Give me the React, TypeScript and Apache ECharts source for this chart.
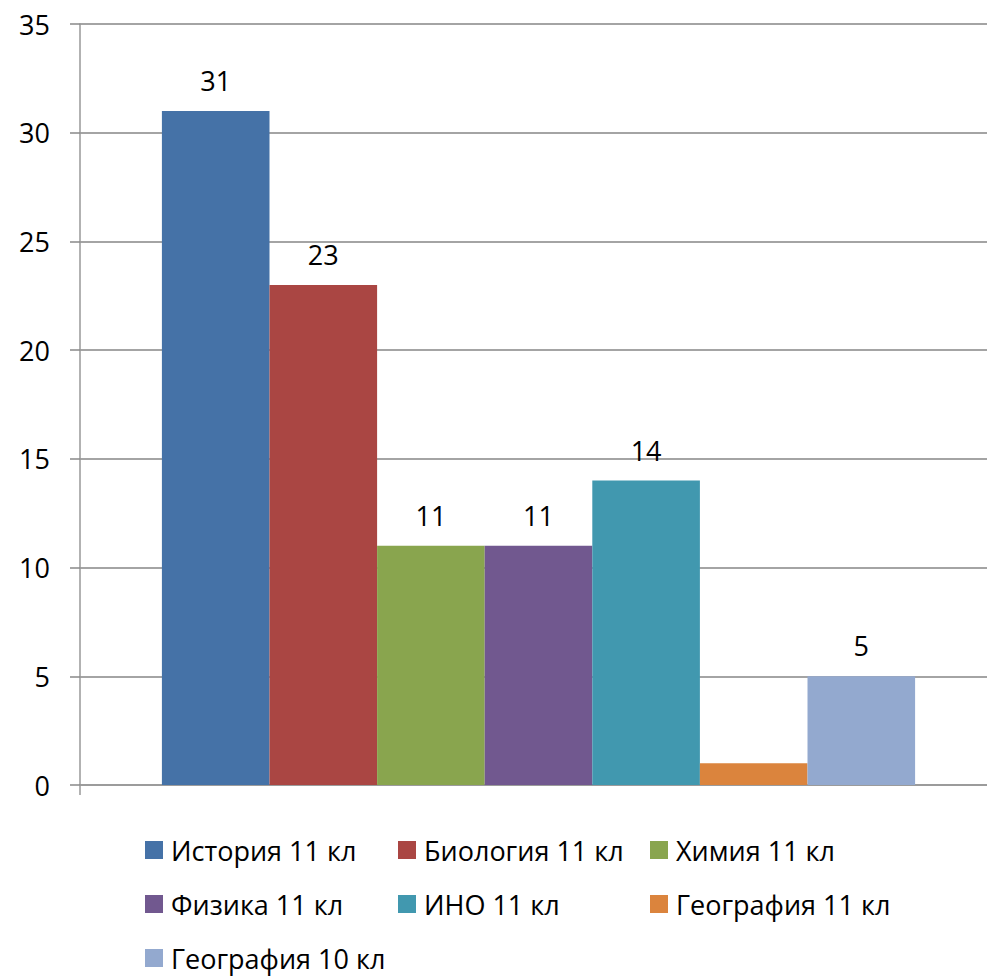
import React, { useEffect, useRef } from "react";
import * as echarts from "echarts";

const categories = [""];
const seriesNames = [
  "История 11 кл",
  "Биология 11 кл",
  "Химия 11 кл",
  "Физика 11 кл",
  "ИНО 11 кл",
  "География 11 кл",
  "География 10 кл",
];
const seriesValues = [31, 23, 11, 11, 14, 1, 5];
const showValueLabel = [true, true, true, true, true, false, true];
const seriesColors = ["#4572A7", "#AA4643", "#89A54E", "#71588F", "#4198AF", "#DB843D", "#93A9CF"];
const yTicks = { min: 0, max: 35, interval: 5 };

const FONT = "'Open Sans', 'Noto Sans', sans-serif";
const FS = 27;

// legend layout: three columns, three rows
const legendCols = [145, 398, 650];
const legendRows = [836, 890, 944];

export default function App() {
  const ref = useRef<HTMLDivElement>(null);
  useEffect(() => {
    if (!ref.current) return;
    const chart = echarts.init(ref.current, undefined, { renderer: "svg" });
    const legends = seriesNames.map((name, i) => ({
      data: [name],
      left: legendCols[i % 3],
      top: legendRows[Math.floor(i / 3)],
      padding: 0,
      icon: "rect",
      itemWidth: 18,
      itemHeight: 18,
      selectedMode: false,
      textStyle: {
        fontFamily: FONT,
        fontSize: FS,
        color: "#000",
        lineHeight: 28,
        padding: [0, 0, 0, 3],
      },
    }));
    chart.setOption({
      animation: false,
      backgroundColor: "#fff",
      grid: { left: 80, right: 10, top: 24, bottom: 976 - 785, containLabel: false },
      legend: legends,
      xAxis: {
        type: "category",
        data: categories,
        axisLine: { show: true, lineStyle: { color: "#999", width: 1.5 } },
        axisTick: { show: true, length: 10, lineStyle: { color: "#999", width: 1.5 } },
        axisLabel: { show: false },
        splitLine: { show: false },
      },
      yAxis: {
        type: "value",
        min: yTicks.min,
        max: yTicks.max,
        interval: yTicks.interval,
        axisLine: { show: true, lineStyle: { color: "#999", width: 1.5 } },
        axisTick: { show: true, length: 10, inside: false, lineStyle: { color: "#888", width: 1.5 } },
        axisLabel: { fontFamily: FONT, fontSize: FS, color: "#000", margin: 30 },
        splitLine: { show: true, lineStyle: { color: "#868686", width: 1.5 } },
      },
      series: seriesNames.map((name, i) => ({
        name,
        type: "bar",
        data: [seriesValues[i]],
        barWidth: 107.6,
        barGap: "0%",
        itemStyle: { color: seriesColors[i] },
        label: {
          show: showValueLabel[i],
          position: "top",
          distance: 17,
          fontFamily: FONT,
          fontSize: FS,
          color: "#000",
        },
      })),
    });
    return () => chart.dispose();
  }, []);
  return (
    <div style={{ position: "fixed", left: 0, top: 0, width: 987, height: 976, overflow: "hidden" }}>
      <div ref={ref} style={{ width: 1007, height: 976 }} />
    </div>
  );
}
